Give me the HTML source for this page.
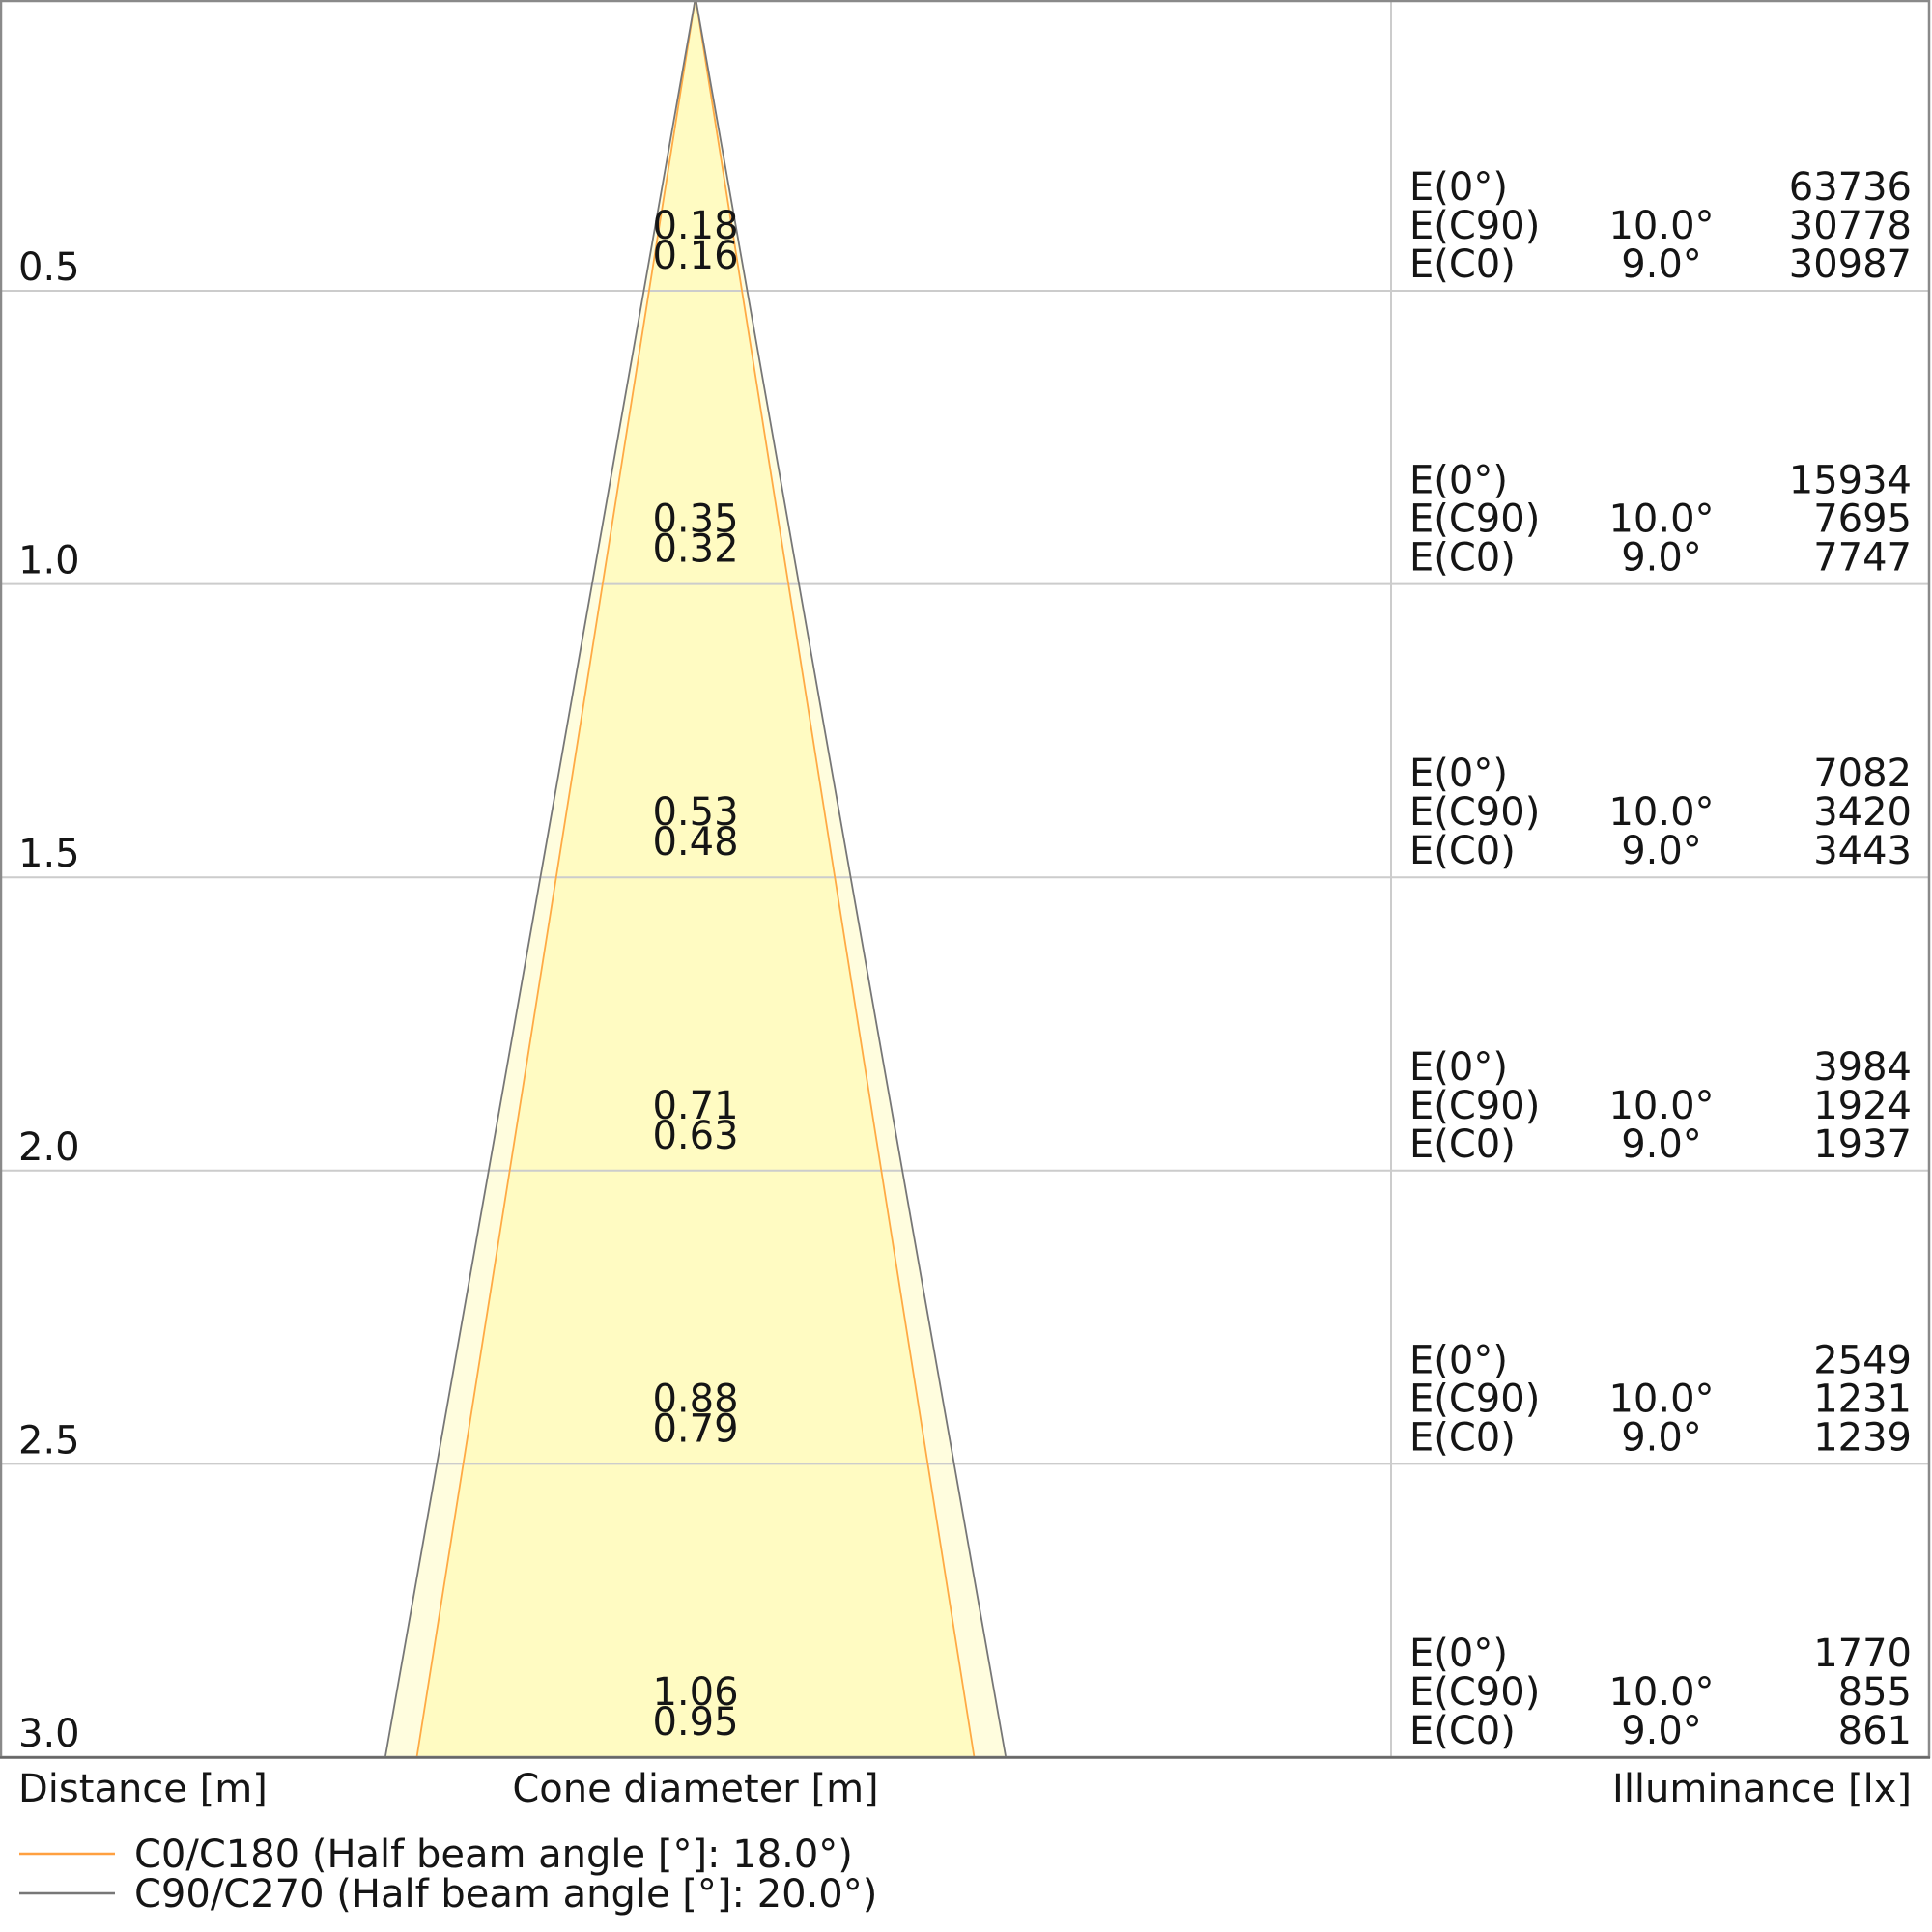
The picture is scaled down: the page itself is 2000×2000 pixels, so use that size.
<!DOCTYPE html>
<html>
<head>
<meta charset="utf-8">
<style>
  html, body { margin: 0; padding: 0; background: #ffffff; }
  svg { display: block; }
  text { font-family: "DejaVu Sans", "Liberation Sans", sans-serif; font-size: 40px; fill: #151515; }
</style>
</head>
<body>
<svg width="2000" height="2000" viewBox="0 0 2000 2000" xmlns="http://www.w3.org/2000/svg">
  <rect x="0" y="0" width="2000" height="2000" fill="#ffffff"/>

  <!-- cones fill -->
  <polygon points="720,-2.6 398.8,1819 1041.2,1819" fill="#FFFDDE"/>
  <polygon points="720,-2.6 431.5,1819 1008.5,1819" fill="#FFFBC2"/>

  <!-- grid lines -->
  <g stroke="#cccccc" stroke-width="2">
    <line x1="0" y1="301" x2="1997" y2="301"/>
    <line x1="0" y1="604.6" x2="1997" y2="604.6"/>
    <line x1="0" y1="908.2" x2="1997" y2="908.2"/>
    <line x1="0" y1="1211.8" x2="1997" y2="1211.8"/>
    <line x1="0" y1="1515.4" x2="1997" y2="1515.4"/>
    <line x1="1440" y1="0" x2="1440" y2="1819"/>
  </g>

  <!-- cone outlines -->
  <polyline points="431.5,1819 720,-2.6 1008.5,1819" fill="none" stroke="#FFAA44" stroke-width="1.8"/>
  <polyline points="398.8,1819 720,-2.6 1041.2,1819" fill="none" stroke="#777777" stroke-width="1.8"/>

  <!-- frame -->
  <rect x="1" y="1" width="1996" height="1818" fill="none" stroke="#8a8a8a" stroke-width="2.5"/>
  <line x1="0" y1="1819.5" x2="1998" y2="1819.5" stroke="#666666" stroke-width="2.5"/>

  <!-- distance labels -->
  <g>
    <text x="19" y="290">0.5</text>
    <text x="19" y="593.6">1.0</text>
    <text x="19" y="897.2">1.5</text>
    <text x="19" y="1200.8">2.0</text>
    <text x="19" y="1504.4">2.5</text>
    <text x="19" y="1808">3.0</text>
  </g>

  <!-- cone diameter labels -->
  <g text-anchor="middle">
    <text x="720" y="247">0.18</text>
    <text x="720" y="278">0.16</text>
    <text x="720" y="550.6">0.35</text>
    <text x="720" y="581.6">0.32</text>
    <text x="720" y="854.2">0.53</text>
    <text x="720" y="885.2">0.48</text>
    <text x="720" y="1157.8">0.71</text>
    <text x="720" y="1188.8">0.63</text>
    <text x="720" y="1461.4">0.88</text>
    <text x="720" y="1492.4">0.79</text>
    <text x="720" y="1765">1.06</text>
    <text x="720" y="1796">0.95</text>
  </g>

  <!-- illuminance table -->
  <g>
    <text x="1459" y="207">E(0°)</text>
    <text x="1459" y="247">E(C90)</text>
    <text x="1459" y="287">E(C0)</text>
    <text x="1720" y="247" text-anchor="middle">10.0°</text>
    <text x="1720" y="287" text-anchor="middle">9.0°</text>
    <text x="1979" y="207" text-anchor="end">63736</text>
    <text x="1979" y="247" text-anchor="end">30778</text>
    <text x="1979" y="287" text-anchor="end">30987</text>

    <text x="1459" y="510.6">E(0°)</text>
    <text x="1459" y="550.6">E(C90)</text>
    <text x="1459" y="590.6">E(C0)</text>
    <text x="1720" y="550.6" text-anchor="middle">10.0°</text>
    <text x="1720" y="590.6" text-anchor="middle">9.0°</text>
    <text x="1979" y="510.6" text-anchor="end">15934</text>
    <text x="1979" y="550.6" text-anchor="end">7695</text>
    <text x="1979" y="590.6" text-anchor="end">7747</text>

    <text x="1459" y="814.2">E(0°)</text>
    <text x="1459" y="854.2">E(C90)</text>
    <text x="1459" y="894.2">E(C0)</text>
    <text x="1720" y="854.2" text-anchor="middle">10.0°</text>
    <text x="1720" y="894.2" text-anchor="middle">9.0°</text>
    <text x="1979" y="814.2" text-anchor="end">7082</text>
    <text x="1979" y="854.2" text-anchor="end">3420</text>
    <text x="1979" y="894.2" text-anchor="end">3443</text>

    <text x="1459" y="1117.8">E(0°)</text>
    <text x="1459" y="1157.8">E(C90)</text>
    <text x="1459" y="1197.8">E(C0)</text>
    <text x="1720" y="1157.8" text-anchor="middle">10.0°</text>
    <text x="1720" y="1197.8" text-anchor="middle">9.0°</text>
    <text x="1979" y="1117.8" text-anchor="end">3984</text>
    <text x="1979" y="1157.8" text-anchor="end">1924</text>
    <text x="1979" y="1197.8" text-anchor="end">1937</text>

    <text x="1459" y="1421.4">E(0°)</text>
    <text x="1459" y="1461.4">E(C90)</text>
    <text x="1459" y="1501.4">E(C0)</text>
    <text x="1720" y="1461.4" text-anchor="middle">10.0°</text>
    <text x="1720" y="1501.4" text-anchor="middle">9.0°</text>
    <text x="1979" y="1421.4" text-anchor="end">2549</text>
    <text x="1979" y="1461.4" text-anchor="end">1231</text>
    <text x="1979" y="1501.4" text-anchor="end">1239</text>

    <text x="1459" y="1725">E(0°)</text>
    <text x="1459" y="1765">E(C90)</text>
    <text x="1459" y="1805">E(C0)</text>
    <text x="1720" y="1765" text-anchor="middle">10.0°</text>
    <text x="1720" y="1805" text-anchor="middle">9.0°</text>
    <text x="1979" y="1725" text-anchor="end">1770</text>
    <text x="1979" y="1765" text-anchor="end">855</text>
    <text x="1979" y="1805" text-anchor="end">861</text>
  </g>

  <!-- axis titles -->
  <text x="19" y="1865">Distance [m]</text>
  <text x="720" y="1865" text-anchor="middle">Cone diameter [m]</text>
  <text x="1979" y="1865" text-anchor="end">Illuminance [lx]</text>

  <!-- legend -->
  <line x1="20" y1="1919" x2="119" y2="1919" stroke="#FFA040" stroke-width="2.5"/>
  <line x1="20" y1="1960" x2="119" y2="1960" stroke="#777777" stroke-width="2.5"/>
  <text x="139" y="1933">C0/C180 (Half beam angle [°]: 18.0°)</text>
  <text x="139" y="1974">C90/C270 (Half beam angle [°]: 20.0°)</text>
</svg>
</body>
</html>
